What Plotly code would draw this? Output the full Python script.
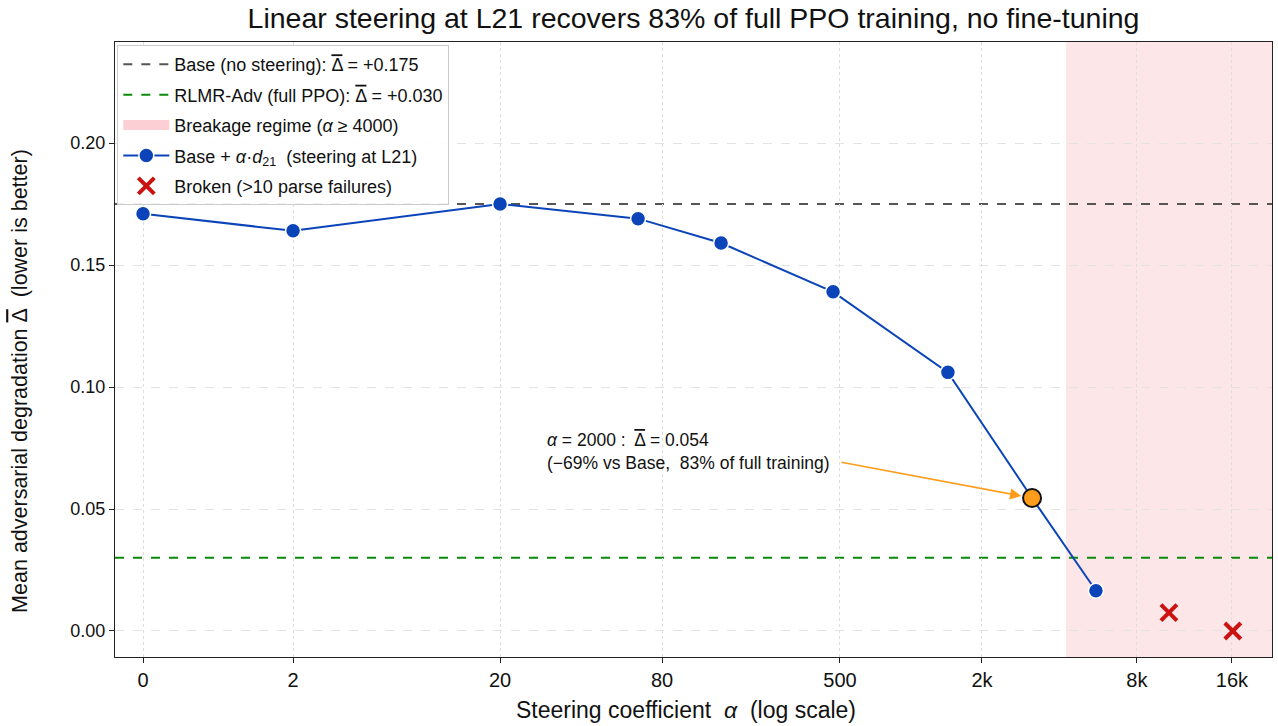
import plotly.graph_objects as go

# ---------------- data ----------------
# steering coefficients and their positions on the chart's log-like axis
alpha = [0, 2, 20, 50, 100, 250, 800, 2000, 4000]
alpha_pos = [0.0, 0.674, 1.604, 2.224, 2.597, 3.100, 3.616, 3.994, 4.281]
delta = [0.171, 0.164, 0.175, 0.169, 0.159, 0.139, 0.106, 0.0545, 0.0165]

broken_alpha = [8000, 16000]
broken_pos = [4.609, 4.896]
broken_delta = [0.0075, 0.000]

highlight_alpha = [2000]
highlight_pos = [3.994]
highlight_delta = [0.0545]

base_delta = 0.175
rlmr_delta = 0.030
breakage_start_pos = 4.146

tick_pos = [0.0, 0.674, 1.604, 2.332, 3.131, 3.769, 4.465, 4.892]
tick_text = ["0", "2", "20", "80", "500", "2k", "8k", "16k"]

y_tick_vals = [0, 0.05, 0.10, 0.15, 0.20]
y_tick_text = ["0.00", "0.05", "0.10", "0.15", "0.20"]

x_range = [-0.126, 5.072]
y_range = [-0.01066, 0.2414]

FONT = "Liberation Sans, Arial, Helvetica, sans-serif"
DBAR = '<span style="text-decoration:overline">Δ</span>'
BLUE = "#0B44B8"
ORANGE = "#FF9C1A"
PINK = "rgba(250,190,195,0.38)"

fig = go.Figure()

# breakage shading
fig.add_vrect(x0=breakage_start_pos, x1=x_range[1], fillcolor=PINK, line_width=0, layer="below")

# reference lines
fig.add_hline(y=base_delta, line=dict(color="#555555", width=2, dash="dash"), layer="below")
fig.add_hline(y=rlmr_delta, line=dict(color="#0a8a0a", width=2, dash="dash"), layer="below")

# legend proxies
fig.add_trace(go.Scatter(x=[None], y=[None], mode="lines",
                         line=dict(color="#555555", width=2, dash="dash"),
                         name=f"Base (no steering): {DBAR} = +0.175", legendgroup="a"))
fig.add_trace(go.Scatter(x=[None], y=[None], mode="lines",
                         line=dict(color="#0a8a0a", width=2, dash="dash"),
                         name=f"RLMR-Adv (full PPO): {DBAR} = +0.030", legendgroup="b"))
fig.add_trace(go.Scatter(x=[None], y=[None], mode="lines",
                         line=dict(color="rgba(250,195,200,0.8)", width=14),
                         name="Breakage regime (<i>α</i> ≥ 4000)", legendgroup="c"))

# steering curve
fig.add_trace(go.Scatter(x=alpha_pos, y=delta, mode="lines+markers",
                         line=dict(color=BLUE, width=2),
                         marker=dict(size=15, color=BLUE, line=dict(color="white", width=1.5)),
                         customdata=alpha, hovertemplate="α=%{customdata}<br>Δ=%{y:.3f}<extra></extra>",
                         name="Base + <i>α</i>·<i>d</i><sub>21</sub>  (steering at L21)", legendgroup="d"))

# broken points
fig.add_trace(go.Scatter(x=broken_pos, y=broken_delta, mode="markers",
                         marker=dict(symbol="x-thin", size=16, color="#CC1111",
                                     line=dict(width=4, color="#CC1111")),
                         customdata=broken_alpha, hovertemplate="α=%{customdata}<br>Δ=%{y:.3f}<extra></extra>",
                         name="Broken (>10 parse failures)", legendgroup="e"))

# highlight point
fig.add_trace(go.Scatter(x=highlight_pos, y=highlight_delta, mode="markers",
                         marker=dict(size=18, color=ORANGE, line=dict(color="#111111", width=2)),
                         customdata=highlight_alpha, hovertemplate="α=%{customdata}<br>Δ=%{y:.3f}<extra></extra>",
                         showlegend=False))

# annotation text
fig.add_annotation(x=1.806, y=0.0735, xref="x", yref="y", xanchor="left", yanchor="middle",
                   align="left", showarrow=False,
                   text=f"<i>α</i> = 2000 :  {DBAR} = 0.054<br>(−69% vs Base,  83% of full training)",
                   font=dict(family=FONT, size=17.5, color="#111111"))
# arrow
fig.add_annotation(x=highlight_pos[0], y=highlight_delta[0], xref="x", yref="y",
                   ax=3.131, ay=0.0693, axref="x", ayref="y", text="",
                   showarrow=True, arrowhead=2, arrowsize=1.4, arrowwidth=1.6,
                   arrowcolor=ORANGE, standoff=11)

# axis titles placed as annotations for exact placement
fig.add_annotation(x=0.4935, y=-0.0866, xref="paper", yref="paper", xanchor="center", yanchor="middle",
                   showarrow=False, text="Steering coefficient  <i>α</i>  (log scale)",
                   font=dict(family=FONT, size=23, color="#111111"))
fig.add_annotation(x=-0.0821, y=0.449, xref="paper", yref="paper", xanchor="center", yanchor="middle",
                   showarrow=False, textangle=-90,
                   text=f"Mean adversarial degradation {DBAR}  (lower is better)",
                   font=dict(family=FONT, size=21.5, color="#111111"))

fig.update_layout(
    width=1278, height=726,
    margin=dict(l=115, r=6, t=42, b=69),
    paper_bgcolor="white", plot_bgcolor="white",
    font=dict(family=FONT, size=18, color="#111111"),
    title=dict(text="Linear steering at L21 recovers 83% of full PPO training, no fine-tuning",
               x=0.5, xref="paper", xanchor="center", y=1 - 18 / 726, yref="container",
               yanchor="middle", font=dict(size=28.5, family=FONT, color="#111111")),
    showlegend=True,
    legend=dict(x=0.002, y=0.995, xanchor="left", yanchor="top",
                bgcolor="rgba(255,255,255,0.92)", bordercolor="#cccccc", borderwidth=1,
                font=dict(size=18, family=FONT, color="#111111"),
                tracegroupgap=4, traceorder="grouped", itemwidth=46),
)

fig.update_xaxes(range=x_range, tickmode="array", tickvals=tick_pos, ticktext=tick_text,
                 showgrid=True, gridcolor="#dddddd", griddash="dot", gridwidth=1,
                 showline=True, linecolor="#222222", linewidth=1.3, mirror=True,
                 ticks="outside", ticklen=5, tickcolor="#222222", zeroline=False,
                 tickfont=dict(size=20, family=FONT), automargin=False)
fig.update_yaxes(range=y_range, tickmode="array", tickvals=y_tick_vals, ticktext=y_tick_text,
                 showgrid=True, gridcolor="#e3e3e3", griddash="dash", gridwidth=1,
                 showline=True, linecolor="#222222", linewidth=1.3, mirror=True,
                 ticks="outside", ticklen=5, tickcolor="#222222", zeroline=False,
                 tickfont=dict(size=18, family=FONT), automargin=False)

# remove the page's default body margin so the figure sits at the window's corner
fig.write_html("out.html", config={"displayModeBar": False},
               post_script="document.body.style.margin='0';")
